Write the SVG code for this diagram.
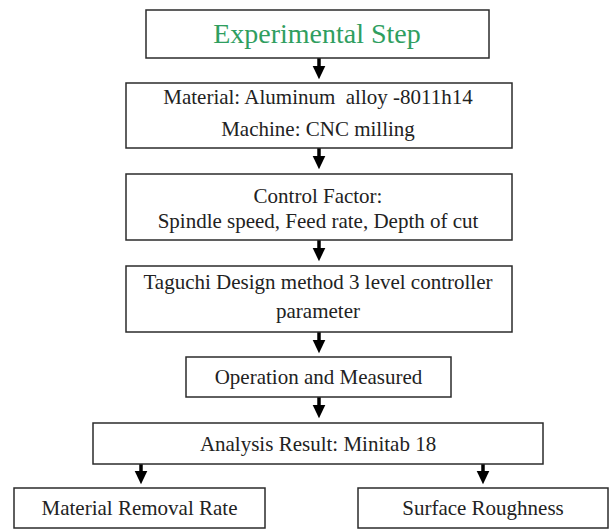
<svg xmlns="http://www.w3.org/2000/svg" width="609" height="530" viewBox="0 0 609 530">
<style>
.box{fill:#fff;stroke:#2b2b2b;stroke-width:1.5}
.t{font-family:"Liberation Serif","Times New Roman",serif;font-size:21px;fill:#222;text-anchor:middle}
.title{font-family:"Liberation Serif","Times New Roman",serif;font-size:28px;fill:#2f9e5f;text-anchor:middle}
.ar{stroke:#000;stroke-width:3.5;fill:none;marker-end:url(#ah)}
</style>
<defs>
<marker id="ah" markerWidth="4" markerHeight="4" refX="2" refY="2" orient="auto" markerUnits="strokeWidth"><path d="M0,0.2 L3.8,2 L0,3.8 Z" fill="#000"/></marker>
</defs>
<rect width="609" height="530" fill="#fff"/>
<g id="connectors">
<line class="ar" x1="319" y1="58" x2="319" y2="73"/>
<line class="ar" x1="319" y1="148" x2="319" y2="163"/>
<line class="ar" x1="319" y1="240" x2="319" y2="255"/>
<line class="ar" x1="319" y1="332" x2="319" y2="347"/>
<line class="ar" x1="319" y1="397" x2="319" y2="412"/>
<line class="ar" x1="141" y1="464" x2="141" y2="478"/>
<line class="ar" x1="483" y1="464" x2="483" y2="478"/>
</g>
<g id="n1"><rect class="box" x="146" y="10" width="343" height="48"/><text class="title" x="317" y="43">Experimental Step</text></g>
<g id="n2"><rect class="box" x="126" y="83" width="386" height="65"/><text class="t" x="318" y="104" xml:space="preserve" style="white-space:pre">Material: Aluminum  alloy -8011h14</text><text class="t" x="318" y="136">Machine: CNC milling</text></g>
<g id="n3"><rect class="box" x="126" y="174" width="386" height="66"/><text class="t" x="318" y="203">Control Factor:</text><text class="t" x="318" y="228">Spindle speed, Feed rate, Depth of cut</text></g>
<g id="n4"><rect class="box" x="126" y="266" width="386" height="66"/><text class="t" x="318" y="289">Taguchi Design method 3 level controller</text><text class="t" x="318" y="318">parameter</text></g>
<g id="n5"><rect class="box" x="186" y="357" width="265" height="40"/><text class="t" x="318.5" y="384">Operation and Measured</text></g>
<g id="n6"><rect class="box" x="93" y="423" width="450" height="41"/><text class="t" x="318" y="451">Analysis Result: Minitab 18</text></g>
<g id="n7"><rect class="box" x="14" y="488" width="251" height="40"/><text class="t" x="139.5" y="515">Material Removal Rate</text></g>
<g id="n8"><rect class="box" x="358" y="488" width="250" height="40"/><text class="t" x="483" y="515">Surface Roughness</text></g>
</svg>
